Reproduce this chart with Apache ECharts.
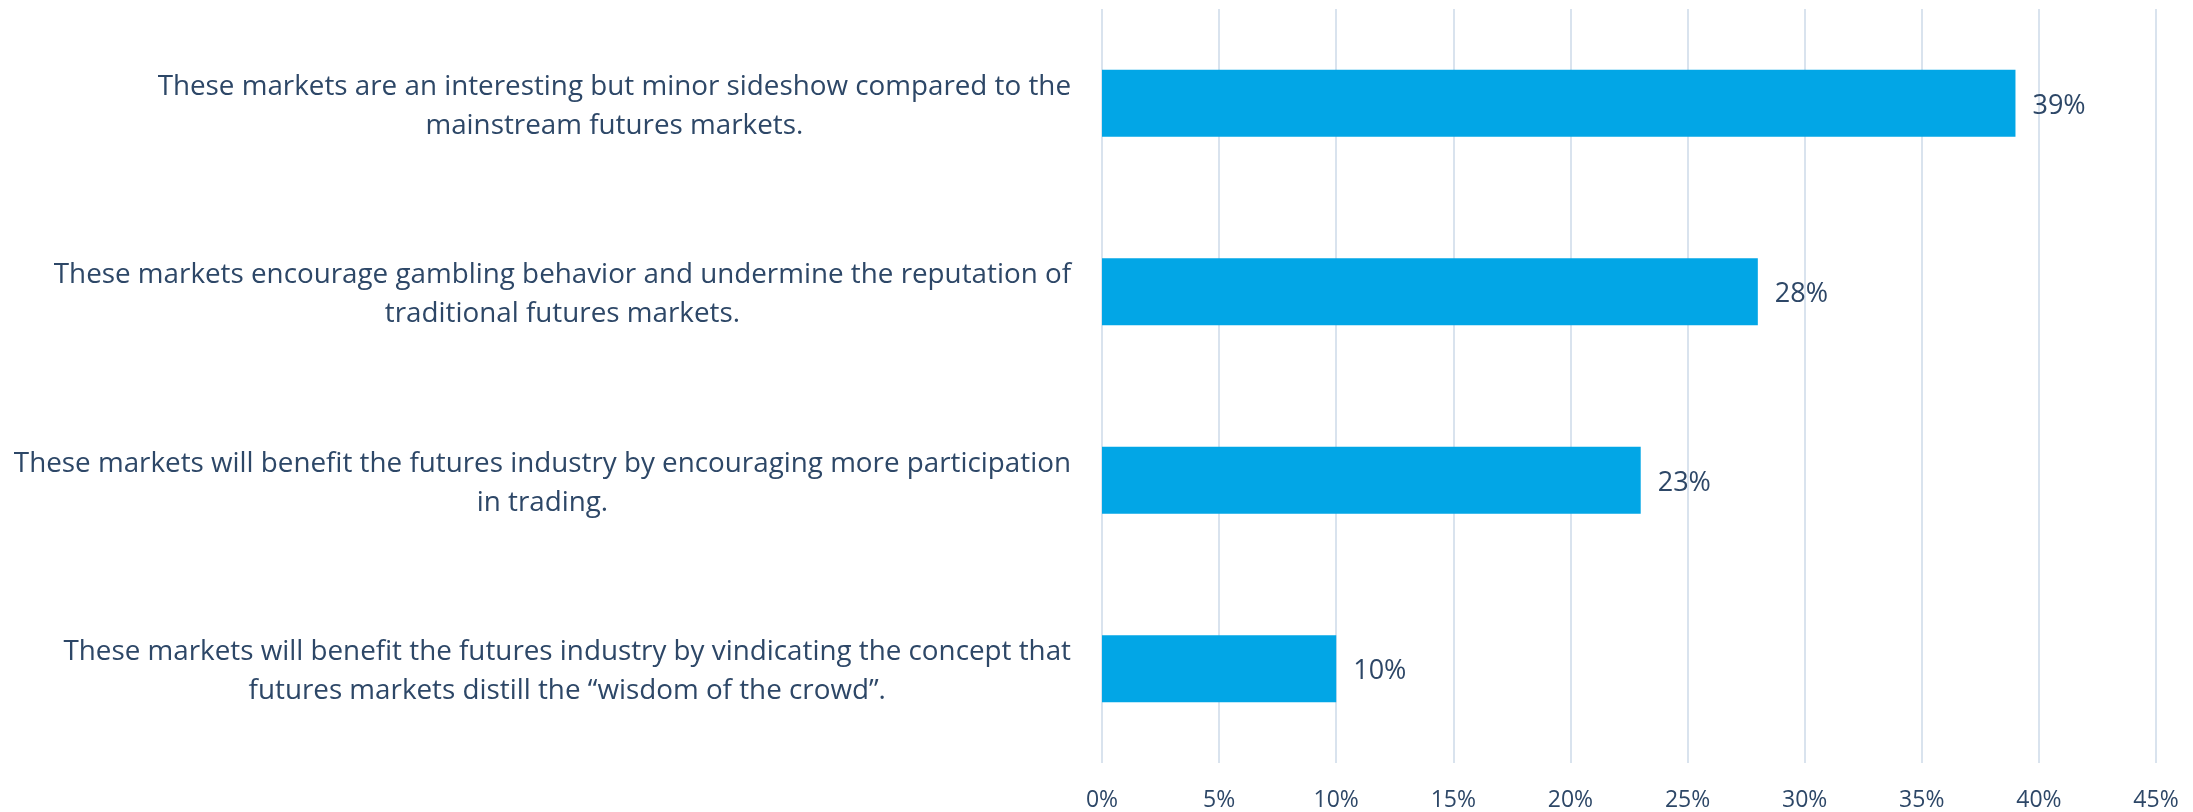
<!DOCTYPE html>
<html>
<head>
<meta charset="utf-8">
<style>html,body{margin:0;padding:0;background:#fff;}#c{width:2193px;height:812px;}</style>
<script src="https://cdn.jsdelivr.net/npm/echarts@6/dist/echarts.min.js"></script>
</head>
<body>
<div id="c"></div>
<script>
const categories = [
  "These markets are an interesting but minor sideshow compared to the\nmainstream futures markets.",
  "These markets encourage gambling behavior and undermine the reputation of\ntraditional futures markets.",
  "These markets will benefit the futures industry by encouraging more participation\nin trading.",
  "These markets will benefit the futures industry by vindicating the concept that\nfutures markets distill the \u201cwisdom of the crowd\u201d."
];
const values = [39, 28, 23, 10];
const xTicks = [0, 5, 10, 15, 20, 25, 30, 35, 40, 45];

const textColor = '#2D4767';
const chart = echarts.init(document.getElementById('c'), null, {renderer: 'canvas'});
chart.setOption({
  animation: false,
  backgroundColor: '#ffffff',
  grid: {left: 1102, right: 37, top: 9, bottom: 47, containLabel: false},
  xAxis: {
    type: 'value',
    min: xTicks[0],
    max: xTicks[xTicks.length - 1],
    interval: xTicks[1] - xTicks[0],
    axisLine: {show: false},
    axisTick: {show: false},
    splitLine: {show: true, lineStyle: {color: '#D9E3EE', width: 2}},
    axisLabel: {
      formatter: '{value}%',
      color: textColor,
      fontFamily: 'Open Sans',
      fontSize: 23,
      margin: 26
    }
  },
  yAxis: {
    type: 'category',
    inverse: true,
    data: categories,
    axisLine: {show: false},
    axisTick: {show: false},
    splitLine: {show: false},
    axisLabel: {
      margin: 31,
      padding: [6, 0, 0, 0],
      formatter: function (v) {
        return v.split('\n').map(function (l) { return '{c|' + l + '}'; }).join('\n');
      },
      rich: {
        c: {align: 'center', color: textColor, fontFamily: 'Open Sans', fontSize: 27.8, lineHeight: 39}
      }
    }
  },
  series: [{
    type: 'bar',
    data: values,
    barWidth: 67,
    itemStyle: {color: '#02A6E6'},
    label: {
      show: true,
      position: 'right',
      distance: 17,
      offset: [0, 3],
      formatter: '{c}%',
      color: textColor,
      fontFamily: 'Open Sans',
      fontSize: 27
    }
  }]
});
</script>
</body>
</html>
